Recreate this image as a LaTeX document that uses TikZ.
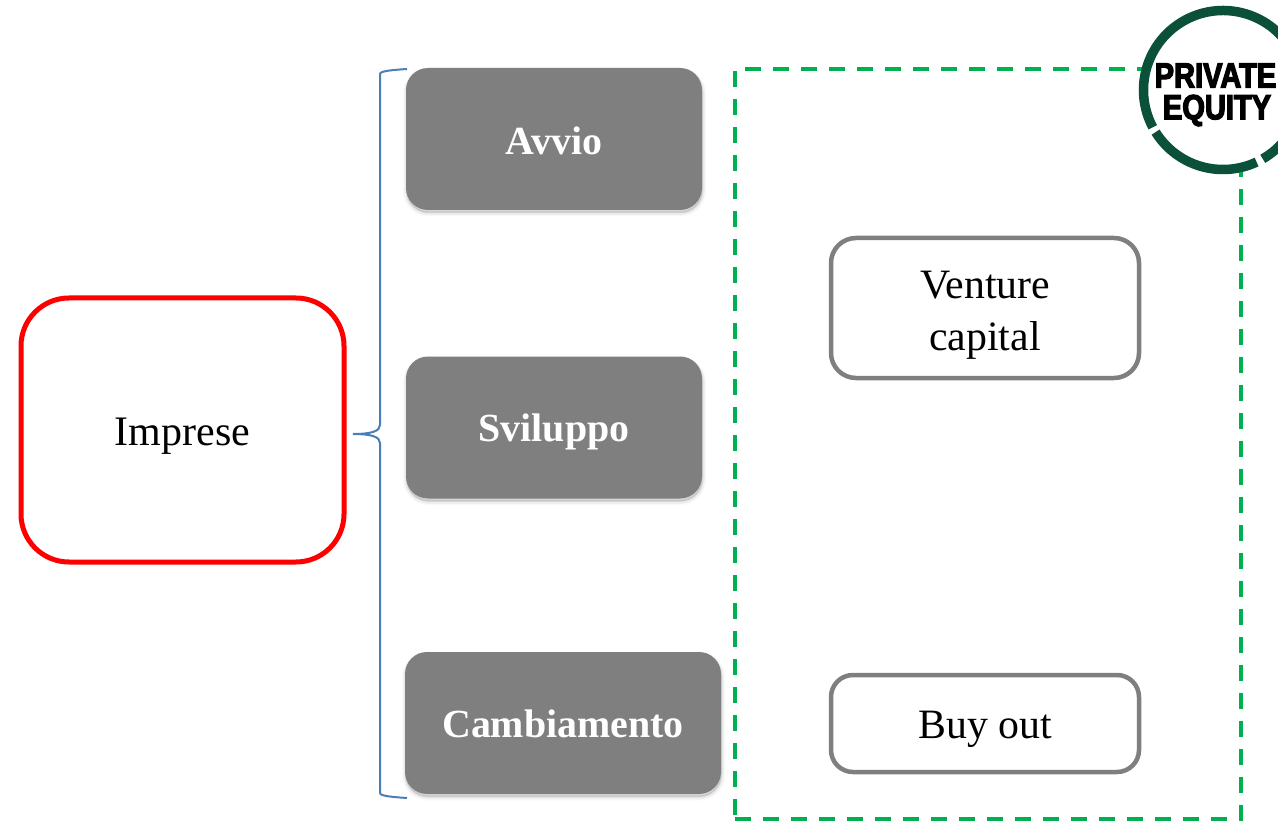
\documentclass[tikz,border=0pt]{standalone}
\usepackage{fontspec}
\setmainfont{Liberation Serif}
\newfontfamily\logofont[FakeBold=3.6,FakeStretch=0.83]{Liberation Sans Bold}
\definecolor{boxgray}{HTML}{7F7F7F}
\definecolor{dashgreen}{HTML}{00B050}
\definecolor{ringgreen}{HTML}{0B5139}
\definecolor{bracketblue}{HTML}{4A7EBB}
\newcommand{\lowered}[2]{\raisebox{-#1}[\height][\depth]{#2}}
\tikzset{
  softshadow/.style={
    preaction={fill=black,opacity=.025,draw=black,line width=7pt,transform canvas={yshift=-3pt,xshift=.5pt}},
    preaction={fill=black,opacity=.04,draw=black,line width=4.5pt,transform canvas={yshift=-3pt,xshift=.5pt}},
    preaction={fill=black,opacity=.06,draw=black,line width=2pt,transform canvas={yshift=-2.5pt,xshift=.5pt}}},
  grayblock/.style={fill=boxgray,text=white,rounded corners=22pt,inner sep=0pt,softshadow,
    font=\fontsize{39.9}{44}\selectfont\bfseries,align=center},
  outlinebox/.style={draw=boxgray,line width=4.5pt,fill=white,rounded corners=22pt,inner sep=0pt,
    font=\fontsize{41.8}{52}\selectfont,align=center},
  redbox/.style={draw=red,line width=5pt,fill=white,rounded corners=48pt,inner sep=0pt,
    font=\fontsize{42}{48}\selectfont,align=center},
  dashframe/.style={draw=dashgreen,line width=3.5pt,dash pattern=on 16pt off 12pt},
  bracket/.style={draw=bracketblue,line width=2pt},
  ringarc/.style={draw=ringgreen,line width=9.5pt},
  logotext/.style={font=\fontsize{35}{36}\selectfont\logofont,inner sep=0pt,text=black}
}
\begin{document}
\begin{tikzpicture}[x=1pt,y=-1pt]
\useasboundingbox (0,0) rectangle (1278,821);
\begin{scope}
\clip (0,0) rectangle (1278,821);
\node[dashframe,minimum width=506pt,minimum height=750pt,inner sep=0pt] (frame) at (988,444) {};
\node[grayblock,minimum width=296pt,minimum height=142pt] (avvio) at (554,139) {\lowered{2pt}{Avvio}};
\node[grayblock,minimum width=296pt,minimum height=142pt] (sviluppo) at (554,427.5) {\lowered{4.5pt}{Sviluppo}};
\node[grayblock,minimum width=316pt,minimum height=142pt] (cambiamento) at (563,723) {\lowered{1pt}{Cambiamento}};
\node[redbox,minimum width=323pt,minimum height=264pt] (imprese) at (182.5,430) {\lowered{6pt}{Imprese}};
\node[outlinebox,rounded corners=25pt,minimum width=308pt,minimum height=140pt] (venture) at (985,308) {\lowered{7.5pt}{Venture}\\\lowered{7.5pt}{capital}};
\node[outlinebox,minimum width=308pt,minimum height=97pt] (buyout) at (985,723.5) {\lowered{6pt}{Buy out}};
\coordinate (bracetop) at (407,69);
\coordinate (bracebot) at (407,798);
\coordinate (bracetip) at (353,434);
\draw[bracket] (bracetop) .. controls (392,70) and (380,71) .. (380,74) -- (380,425)
  .. controls (380,431) and (372,434) .. (bracetip)
  .. controls (372,434) and (380,437) .. (380,443) -- (380,793)
  .. controls (380,796) and (392,797) .. (bracebot);
\coordinate (ringcentre) at (1223,90);
\fill[white] (ringcentre) circle (84pt);
\draw[ringarc] (ringcentre) ++(-65:79.5pt) arc[start angle=-65,end angle=-148,radius=79.5pt];
\draw[ringarc] (ringcentre) ++(-152:79.5pt) arc[start angle=-152,end angle=-420,radius=79.5pt];
\node[logotext,anchor=center] (private) at (1215.5,75.5) {PRIVATE};
\node[logotext,anchor=center] (equity) at (1217,110.5) {EQUITY};
\end{scope}
\end{tikzpicture}
\end{document}
